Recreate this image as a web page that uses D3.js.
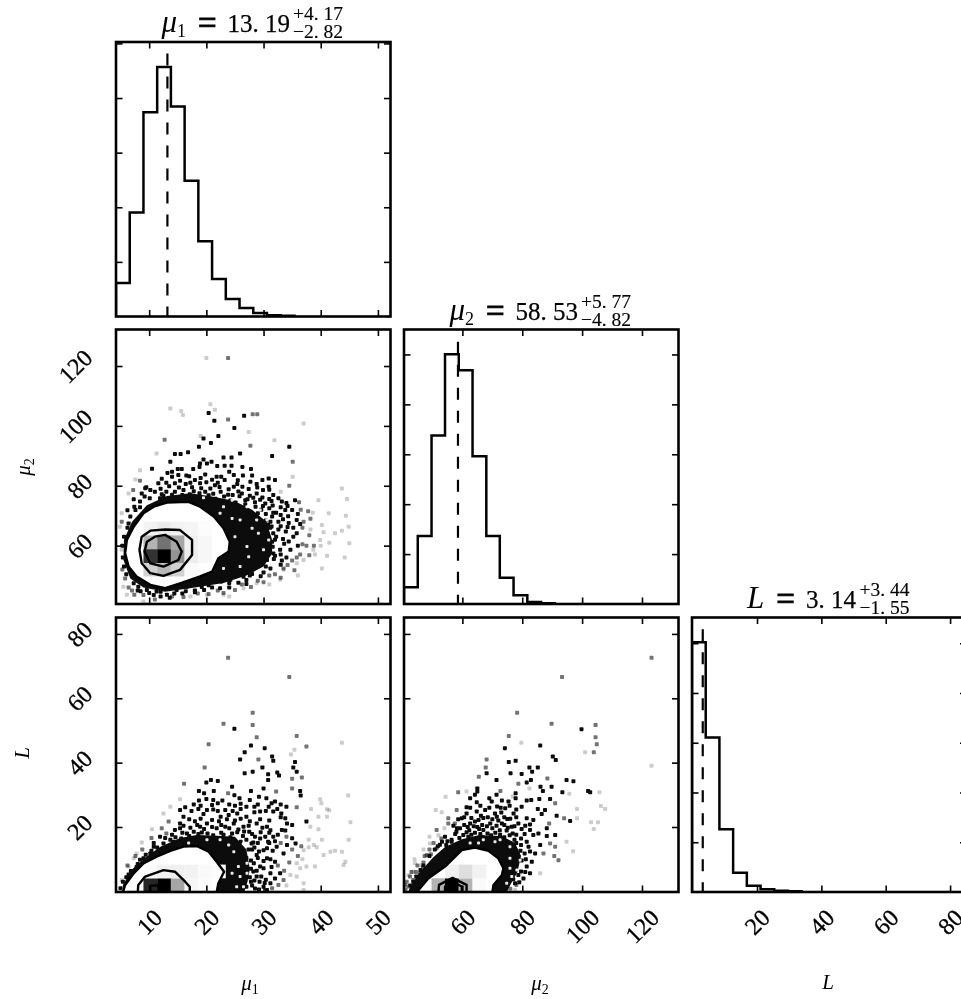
<!DOCTYPE html>
<html>
<head>
<meta charset="utf-8">
<script src="https://cdn.jsdelivr.net/npm/d3@7"></script>
<style>
body { margin: 0; background: #fff; }
svg { display: block; filter: blur(0.55px); }
text { font-family: "Liberation Serif", serif; fill: #000; }
</style>
</head>
<body>
<div id="chart"></div>
<script>
// axis ranges and ticks
var mu1Domain = [4.2, 52.2], mu2Domain = [40.5, 132.2], lDomain = [-0.2, 85.1];
var mu1Ticks = [10, 20, 30, 40, 50], mu2Ticks = [60, 80, 100, 120], lTicks = [20, 40, 60, 80];

// histograms
var mu1Edges = [4.2, 6.6, 9, 11.4, 13.8, 16.2, 18.6, 21, 23.4, 25.8, 28.2, 30.6, 33, 35.4];
var mu1Counts = [307, 951, 1871, 2285, 1923, 1242, 690, 344, 160, 77, 31, 12, 6];
var mu1CountTicks = [500, 1000, 1500, 2000, 2500];
var mu2Edges = [40.5, 45.1, 49.7, 54.2, 58.8, 63.4, 68, 72.5, 77.1, 81.7, 86.3, 90.9];
var mu2Counts = [168, 681, 1688, 2503, 2342, 1480, 681, 262, 87, 20, 7];
var mu2CountTicks = [500, 1000, 1500, 2000, 2500];
var lEdges = [-0.2, 4.06, 8.32, 12.58, 16.84, 21.1, 25.36, 29.62, 33.88];
var lCounts = [5020, 3107, 1262, 389, 128, 54, 27, 13];
var lCountTicks = [1000, 2000, 3000, 4000, 5000];
var countTops = [2513, 2750, 5517];
var medians = [13.19, 58.53, 3.14];
var medianTops = [2408, 2627, 5282];

// titles
var titleNames = ["\u03bc", "\u03bc", "L"];
var titleSubs = ["1", "2", ""];
var titleValues = ["13. 19", "58. 53", "3. 14"];
var titlePlus = ["+4. 17", "+5. 77", "+3. 44"];
var titleMinus = ["\u22122. 82", "\u22124. 82", "\u22121. 55"];

// mu1 / mu2 panel
var p1Outer = [[5.8,57.4],[6.1,61.9],[7.3,66.3],[9,70.8],[10.8,73],[13.1,74.4],[16.9,74.6],[18.9,73],[21.3,69.7],[23,65.8],[24.1,61.3],[23.9,58],[22.1,55.8],[21,51.3],[18.9,49.7],[15.4,47.4],[12.8,45.8],[10.2,46.9],[7.8,49.7],[6.4,53]];
var p1Middle = [[8.3,58.6],[8.7,63],[10.2,65],[12.8,65.4],[15.4,65.2],[17.5,61.9],[17.5,56.9],[15.4,51.9],[12.5,49.9],[10.2,50.8],[8.7,54.1]];
var p1Inner = [[9.2,58],[9.6,61.3],[11,63],[12.8,63.6],[14.8,61.3],[15.7,58],[15.1,55.2],[12.5,53],[10.2,54.1]];
var p1Dense = [[5.5,55.2],[5.6,62],[7,68],[9.6,73.5],[13.1,76.6],[17.2,77.5],[20.7,76.5],[24.8,75],[28,72],[30.5,68],[31.5,62],[31.5,57.4],[30,53],[27,50],[23,47.5],[18,46],[12.8,44.6],[9,46],[6.7,49]];
// [mu1 bin, mu2 bin, density]
var p1Cells = [[2,5,.05],[3,5,.08],[4,5,.05],[5,5,.04],[6,5,.01],[2,4,.3],[3,4,.55],[4,4,.35],[5,4,.06],[6,4,.03],[2,3,.8],[3,3,1],[4,3,.42],[5,3,.07],[6,3,.03],[2,2,.18],[3,2,.28],[4,2,.18],[5,2,.02]];
var p1Dark = [[20.4,104.3],[21.4,101.7],[24.9,99.3],[26.6,103.4],[22.1,96.6],[19.5,95.8],[18.7,93],[20.8,94.3],[16.8,91.2],[15.5,90.6],[14.5,90.6],[13.7,88],[25.9,90.8],[24.4,89.4],[23,89.4],[31.5,89.9],[34.5,93],[19.5,88.8],[18.9,87.4],[20.1,87.4],[20.9,88],[21.9,86.6],[23.2,86.7],[24.4,86.7],[26.3,86.3],[27.8,85.6],[10.5,85.7],[13.2,84.3],[14,84.7],[15,85.6],[15.7,85.6],[17.7,85.6],[18.8,86.3],[15.1,83.6],[16.5,83.4],[12.2,82.3],[11.6,80.8],[15.4,81.7],[14.5,80.8],[18,81.9],[18.9,80.8],[24,84.7],[24.8,83.6],[23.2,81.9],[28,83.4],[27.7,81.3],[29.8,81.9],[30.9,82.4],[32,81.9],[30.9,79.7],[29.9,78.6],[26.3,79.7],[24.8,79.7],[20.7,79.1],[21.5,80.2],[19.8,78],[16,78.6],[14.5,78],[13,78],[11,78],[10.2,78.6],[8.7,77.4],[10.1,75.8],[8.4,74.7],[7.6,71.9],[6.7,69.7],[6.4,67.4],[28.8,77.4],[31.7,76.9],[30.3,74.1],[33.2,74.7],[35.5,75.2],[33.8,71.9],[35,71.9],[31.5,69.7],[32.6,68],[35.8,68.6],[33.9,64.7],[31.7,64.1],[35.2,63],[31.5,61.3],[32.9,58.6],[34.7,58.6],[35.8,64.1],[7.3,47.4],[8.1,46.3],[9.6,45.2],[11.3,44.7],[13.1,43.6],[14.8,45.2],[16.6,46.3],[18.9,47.4],[21.3,48],[23,49.1],[24.8,50.8],[26.5,50.8],[28.3,52.4],[30.6,55.2],[31.7,57.4],[29.4,58.6],[12,79],[17.5,79.5],[18.8,77.5],[22.5,78],[23.8,77],[25.8,76.5],[27.2,75.5],[28.5,74.5],[26.8,73.8],[29.6,72],[31,72.5],[32.2,71],[30.8,67],[33,66.5],[31.2,66],[32,62],[30.8,59],[31.8,55.5],[33.2,55],[28,50.5],[30,51],[27,48.5],[24,47.5],[21,46],[18,45],[15.8,44],[10.8,43.5],[8.5,44.8],[21.8,83],[19.8,83.8],[17.2,81],[25.5,81.8],[13.5,79.8],[9.5,79.5],[7.3,75.5],[6.2,71.8],
[9.3,79.2],[12.2,77.2],[15.2,79.4],[17.8,78.2],[19.1,79.2],[22.3,79.6],[23.9,78.8],[25.6,78.1],[27.4,78.9],[28.9,79.4],[31,78.7],[9.2,76.4],[12.5,76.6],[14,77],[15.8,76.9],[17.1,77.2],[18.4,76.1],[20.4,76.8],[21.2,77.3],[23.1,76.4],[24.6,76.9],[26.2,77.4],[27.6,76.7],[29.8,76.1],[31,75.6],[11.9,75.8],[13.9,75.9],[15.1,76.1],[16.5,75.5],[18,75.4],[19.2,75.2],[20,74.8],[21.6,75.7],[22.9,74.9],[24.2,75.1],[25.1,74.4],[26.8,75.2],[28.2,76],[29.4,75.3],[31.4,74.9],[32.6,75.8],[34,74.2],[25.6,72.6],[26.9,72.4],[28.6,73],[29.9,73.2],[31.6,73.4],[33,72.8],[34.2,73.2],[29,70.8],[30.4,70.6],[31.7,71],[33,70.2],[34.3,69.8],[36,70.6],[30.4,68.4],[31.2,68],[33.4,68.8],[34.4,67.6],[36.4,67.2],[30.6,65.6],[31.4,66.4],[32.6,65.4],[34.2,66.2],[35.2,66],[30.8,62.4],[32.2,63],[33.4,62.2],[34.4,61.4],[30.6,60.2],[31.6,59.6],[33.6,60.6],[36,60],[30.4,56.2],[32,56.6],[33,57],[34,56],[29.2,53.4],[30.4,53],[31.2,52.4],[33,53.6],[25,49.6],[26.5,49.6],[27.6,50],[29.5,49.8],[22.6,48],[24.2,48.6],[25.6,47.6],[27,47.2],[19.2,46.2],[20.4,46.8],[22.4,45.8],[24,46],[8,45],[10,44.2],[12,44.6],[14.4,44],[16.4,44.8],[18,44.4],[19.6,45.2],[12,43],[13.6,42.6],[14,83],[17,83.2],[19,82.6],[21,82],[22.6,83],[26.4,83.4],[13,81],[16.4,80.6],[20,81.2],[22,81],[25.4,80.6],[28.8,80.6],[5.6,53],[5.4,56],[5.3,60],[5.6,63],[6,50.4],[6.2,66],[7.4,73],[8.4,72.8]];
var p1Mid = [[23.8,122.7],[12.7,95.4],[23.8,102.1],[27.7,93.4],[35.1,88],[28.1,103.9],[28.9,103.9],[8.4,81.7],[34.5,80],[37.8,71.5],[36.5,72],[36.8,66],[38,63.5],[37.5,60],[35.8,56],[33.5,52.4],[31,50],[29,48.3],[26.2,47],[22,45],[18.5,44],[14,43],[9,43.5],[7,45],[5.8,49],[5.3,52],[5.2,68],[36.8,60.5],[38.8,60],[35.4,51.8],[33,49.3],[34.2,53.5],[35,55],[36.4,57],[38,56.8],[32,50.4],[30,47.8],[27.8,46.2],[25,45.2],[23,44.2],[20.4,43.8],[16,42.8],[11,42],[7.4,43.6],[6.4,46],[37,68],[38.2,69],[36.2,74.5],[7.2,78.6]];
var p1Faint = [[20,122.7],[20.7,107.2],[21.5,105.4],[13.7,105.8],[15.6,105],[15.9,103.6],[27.4,98],[37,100.8],[31.9,95.2],[19,96.6],[11.3,90.8],[8.4,85.2],[7.6,82.1],[6.4,77.4],[5.2,70.8],[4.9,66.3],[43.7,79.1],[44.6,75.6],[39.6,75.2],[41.4,70.8],[44.4,70],[44.9,66.3],[43.7,65],[42.5,64.1],[45,60.8],[44.2,56],[41.1,56.6],[40.2,66.9],[38.2,65.4],[39.9,61.9],[38.7,58.6],[40.2,52.4],[37,55.2],[35.8,54.1],[33.5,51.9],[32.9,48.6],[28.8,47.4],[26.5,45.8],[23,43.6],[20.1,43.6],[17.2,43],[9,41.3],[6.1,43.6],[5.5,46.3],[5.2,58.6],[35.1,83],[33,78],[38.6,71],[40.5,64.5],[41.5,61],[36,50],[31,47],[24,43],[40,60],[39,57]];
var p1Holes = [[24.5,69.1],[28,65.8],[22.4,70.8],[25,63],[29.1,64.1],[27.1,59.7],[25.9,68.6],[28.8,68.6],[30.6,68.6],[27.4,56.3],[30,58.6],[30.9,61.9],[23,73],[24.5,75.2],[19.5,76],[27.1,73],[25.9,53],[23,52.4],[29.4,71.9]];

// mu1 / L panel
var p2Outer = [[5.4,-0.3],[5.8,2],[7.3,5.6],[9,8.7],[11.3,10.8],[13.7,12.6],[16,13.9],[18.3,14.1],[20.4,12.3],[21.8,9.2],[23.1,6.1],[22.1,2.5],[21.8,-0.3]];
var p2Middle = [[8,-0.3],[8.1,2],[9.3,4.6],[12.5,6.6],[14.5,6.1],[16.3,3],[17.1,1.4],[17.1,-0.3]];
var p2Inner = [[10.2,-0.3],[10.2,1.7],[11.5,1.9],[11.8,-0.3]];
var p2Dense = [[5.4,-0.3],[5.4,2],[7,6.8],[9.4,10.6],[11.9,13.8],[15.4,16.6],[18.3,17.5],[21.8,17.3],[25,17],[27,13],[27.6,7],[27.2,3],[26.6,-0.3]];
var p2Cells = [[1,0,.01],[2,0,.85],[3,0,1],[4,0,.35],[5,0,.03],[6,0,.01],[2,1,.02],[3,1,.05],[4,1,.06],[5,1,.05],[6,1,.02],[7,1,.01]];
var p2Dark = [[24.9,50.5],[27.8,45.3],[30.2,44.5],[26.7,43.2],[25.9,41],[31.5,41.9],[31.7,40.6],[35.5,40.2],[35.2,38.5],[35.8,37.2],[29.8,38.5],[26.7,36.7],[28.1,37.2],[30.8,36.4],[30.8,34.6],[32.4,36.9],[32.7,36],[20.8,34.6],[20,33.8],[22,34.3],[24.5,32.5],[30,32],[18.7,31.2],[19.6,30.5],[21.3,31.2],[24.9,29.9],[27.8,31.2],[36.4,31.2],[36.5,29.8],[18.7,28.2],[20,28.7],[21.2,28.4],[22.8,28.2],[25.8,28.9],[29.2,29.4],[30.5,28.9],[32,27.9],[27.6,28.4],[27,26.3],[28.4,26.3],[30.9,26.3],[34,26.3],[16.3,26.1],[15.4,25.3],[16,23.2],[15.4,21.1],[14.5,19.1],[20.1,25.3],[19.5,24],[23.3,25.3],[23.9,23.7],[22.5,23.2],[25.4,24.2],[27,23.2],[29.4,24.8],[31.7,24.8],[33.1,24.2],[33.8,22.7],[37.5,21.7],[35,20.6],[34.1,21.1],[18.9,20.1],[20.1,21.1],[21.8,19.6],[23.3,20.1],[24.8,21.1],[26.5,20.1],[28.8,21.1],[30.6,20.1],[33.2,19.1],[33.8,18.9],[28.5,17],[30.3,17],[31.7,17],[35,16.5],[35.6,14.9],[34.1,14.4],[33.5,11.8],[32.3,13.9],[30,12.8],[28.8,11.3],[27.9,14.9],[28.3,8.7],[29.4,7.7],[30.6,10.3],[31.2,5.6],[32.9,5.6],[28.8,4.6],[30,1.4],[31.2,2.5],[28.5,0.9],[30.6,0.4],[11.9,17],[12.5,14.9],[13.7,16],[15.4,19.6],[16.6,18],[17.8,18.5],[10.2,11.8],[10.8,13.9],[19.2,18.3],[22.6,18.2],[24.5,18],[26.4,17.2],[27.5,18.5],[28,13],[29,15],[31,15],[28.2,6.2],[27.8,3],[29.3,3],[14.6,16.8],[9,10.3],[8,8.5],[6.8,6.3],
[17,22.4],[18,21.8],[19,22.6],[21,22.2],[22.2,21.8],[23.6,22.4],[25,22],[26,22.6],[27.6,21.8],[29.4,22.4],[31,22],[33,23],[16,20.4],[17.2,19.8],[18.4,20.6],[19.6,19.4],[21,20],[22.6,20.6],[24,19.6],[25.6,19.2],[27.4,20.4],[29.8,19.8],[31.2,19],[14,17.6],[15.8,18.2],[17,17.2],[18.6,17.8],[20.2,18],[21.2,17.4],[23,17.6],[24.2,16.8],[25.4,18.4],[26.6,18.6],[28,17.8],[29.5,18.4],[31,18.2],[32.5,17.6],[10.8,15],[12.8,16.6],[14.2,15.4],[15.6,16.4],[17,16],[18.8,16.6],[20,16.4],[21.4,16],[23,15.4],[26,15.4],[27,16],[28.2,15.2],[29.4,16.4],[30.8,15.4],[32,15.6],[27.4,13],[28.4,13.6],[29.2,12.4],[30.6,13.4],[31.6,12.6],[27,10.4],[27.8,9.6],[29,10.4],[30,9.4],[31.2,10],[32,9.2],[27.8,7],[28.8,6.4],[30,7.2],[31.4,7.6],[27.6,4.4],[28.4,3.4],[29.6,4.6],[30.4,3.6],[32,4],[27,1.4],[28,1.8],[29.2,0.6],[30.2,2.6],[17.4,25],[18.6,25.6],[21.2,25.4],[22,25],[24.6,25],[26,25.6],[28.4,24.6],[30.4,25],[32.4,25.6],[17.8,27],[19,26.6],[21,26.8],[22,27.4],[24,27],[25,26.6],[26,27.2],[29,27],[31.4,27.4],[33,27],[7.8,7.6],[8.4,9.8],[9.4,11.4],[10.4,12.6],[11.4,13.6],[12.4,13.4],[6.4,5.2],[5.4,3],[6,4.4],[5,1]];
var p2Mid = [[23.8,72.6],[34.5,66.6],[28.1,55.5],[28.1,51.7],[28.8,47.9],[35.8,48.3],[37.5,45],[20.4,45.7],[23,52.1],[19.7,38.5],[16.1,33.4],[29.1,41],[36.7,35.4],[35,35],[32.2,31],[35,32],[23.8,30.5],[35.8,26.1],[12.2,19.6],[13.4,21.7],[33,15],[36,11],[34.5,9],[32.5,8],[33.5,3.5],[31.5,1],[35,13],[36.6,14],[33.6,6.4],[32.6,2],[34,17],[13,18],[10.4,16.6],[8.8,13],[7.6,11],[6.2,8]];
var p2Faint = [[43.7,46.2],[44.8,29.8],[45.2,21.5],[44.9,16],[44.3,9.2],[44,8.2],[43.7,12.3],[42.5,12.6],[41.7,12.3],[39.9,28.6],[40.1,27.4],[38.3,25.6],[41.1,25.5],[41.5,25.2],[39.6,23.2],[41.1,23.2],[39.6,19.3],[38.2,20.1],[40.2,16],[37.9,16],[38.8,14.4],[39.3,13.7],[37.9,13.7],[37,12.8],[40.5,11.3],[39,7.7],[37.5,7.7],[36.4,7.2],[35.8,4.6],[34.7,5.1],[37,2.5],[37,0.4],[35.8,8.7],[15.4,28.6],[12.5,24.2],[13.7,26.3],[10.5,19.3],[8.7,15.2],[7.8,11.8],[6.4,7.7],[5.2,3.5],[7.3,10.3],[4.9,0.9],[35.4,44],[34.8,42.5],[36.8,10],[34,1.8]];
var p2Holes = [[25.9,4.6],[24.5,5.6],[25.6,7.7],[27.1,8.7],[25.3,1.4],[23.9,14.4],[26.5,14.9],[20.1,16],[22.4,16],[24.8,12.3],[16.9,15],[26.5,1.4],[27.1,5.6]];

// mu2 / L panel
var p3Outer = [[44.7,-0.3],[48.6,4],[54.2,7.7],[59.8,12.8],[64.2,13.6],[68.7,12.6],[72,10.3],[73.7,7.2],[73.2,5.1],[70.4,2],[70,-0.3]];
var p3Middle = [[52,-0.3],[52.2,2],[56.7,4.2],[61.4,2],[61.4,-0.3]];
var p3Inner = [[54.2,-0.3],[54.2,1.5],[56.7,2.9],[59.8,1.5],[59.8,-0.3]];
var p3Dense = [[41.8,-0.3],[42.6,1.4],[45.6,5.8],[50.3,10.6],[54.2,13.8],[59.8,16.2],[65.4,17.4],[73.2,17.2],[77.6,15],[79.6,11],[78.4,6],[76,2],[74.8,-0.3]];
var p3Cells = [[2,0,.3],[3,0,1],[4,0,.3],[5,0,.02],[3,1,.06],[4,1,.13],[5,1,.05]];
var p3Dark = [[99.8,50.4],[86,45.3],[74.2,44.5],[90.2,41.9],[91.2,40.8],[75.5,40.2],[77.8,40.6],[68.1,36.7],[82.4,38.5],[85.2,38.5],[83.3,37.2],[76.1,36.7],[79.8,36.5],[71.4,34.6],[82.9,34.6],[81.5,33.8],[94.8,34.6],[97.1,34.2],[86.1,32.5],[89.8,32.5],[65,32],[65,31],[86.9,31.2],[93.4,30.8],[102,31.2],[102.7,30.8],[64.2,30],[62.6,28.9],[69,28.9],[71.4,30],[77.8,30.5],[77.8,28.9],[81.5,28.2],[83,28.4],[85.7,28.7],[89.3,28.7],[64.8,27.7],[69.8,27.9],[73.2,28.2],[75.4,27.9],[79.8,26.3],[85.2,25.6],[86.5,24],[87.6,25.3],[91.5,23.5],[96,21.9],[61.4,26.1],[61.4,24.2],[64.8,24.8],[67.6,25.3],[70.9,24.2],[74.3,25.8],[77.1,24.2],[81.5,22.7],[83.7,22.2],[78.7,21.1],[88.2,19.6],[91,17.5],[88.2,17.2],[85.4,18],[82.6,19.1],[83.7,17.5],[59.8,22.7],[62.6,21.1],[64.2,21.7],[69.3,21.1],[73.2,21.1],[76.5,20.1],[59.2,19.6],[54.2,17],[56.4,16],[60.3,17.5],[67,19.1],[81.5,15.4],[82.1,13.9],[84.3,11.8],[86,14.4],[83.2,9.2],[81.5,7.7],[82.6,5.6],[80.4,4],[78.7,5.1],[77.6,2.5],[71.5,23.2],[73,24.5],[66.2,23.5],[68.5,23],[75,22.5],[72.5,19],[74.8,18.9],[62.3,19],[65,20],[58,18.5],[52.5,14.5],[50.8,13],
[57,20.4],[58.2,19.6],[60.6,20.6],[61.8,20],[63.8,20.2],[65.6,19.4],[66.6,20.6],[68.2,20.2],[70,19.6],[71.4,20.4],[74,20.6],[75.2,19.8],[77.4,20.2],[79.8,19.4],[81,20.4],[82.6,20.8],[51.8,14],[53.2,15.4],[55,15.6],[57.6,17.8],[61.4,18.4],[63,17.6],[64.2,18.2],[66,17.8],[68.4,18],[69.6,17.4],[71,18.2],[72.6,17.6],[74,16.8],[75.8,17.4],[76.8,18],[78,17.6],[79.6,16.4],[80.8,17.8],[58.6,22.4],[60.6,23],[63,22.8],[65.4,22.2],[67,22.8],[70,22.4],[72,22],[74,23],[76,22.6],[78,23],[62.6,26],[66,26.6],[69,26],[71.6,26.4],[72.8,26],[75.8,26.6],[78,25.4],[77,12.4],[78.4,11.6],[79.4,12.6],[80.8,11.8],[82.6,12.4],[75,9.4],[76.4,8.4],[78,9],[79.8,9.6],[81.2,10],[75.6,6],[76.8,6.6],[79.6,6.2],[81,6],[74.4,3],[75.8,3.4],[77,3.8],[79,2.8],[71,0.8],[72,1.6],[73.5,0.6],[49,11],[50,9],[47,8],[46,6.6],[44.6,4.6],[43.6,3],[42.6,1.8],[54.6,14.4],[56.4,15.4],[59,16.6],[62,17],[76,15],[78,15],[79.6,14.4],[77.4,16],[73.4,16.6],[67,16.8]];
var p3Mid = [[123.2,72.6],[93.3,66.6],[78.3,55.5],[89.8,52.1],[104.5,51.7],[104.5,47.9],[104.9,45.7],[75.5,48.3],[103.9,43.2],[68.1,41],[67.8,38.5],[65.5,35.6],[72.7,31.2],[58.6,30.8],[94,22.7],[58.1,25.3],[88.4,35.1],[78.7,33.4],[91,27.4],[89.3,14.9],[91,13.9],[90.7,11],[92.1,9.7],[87.1,11.8],[89,21.1],[55.3,22.7],[55.3,21.1],[57.5,21.1],[51.4,13.4],[48.1,11.3],[41.4,3],[42.5,4.6],[45.8,5.6],[43.6,3.5],[74.3,1.5],[47,9],[49.5,11.5],[44.5,6],[46.8,7.5],[42,1.5],[51.4,19.1],[41,0.6],[40.8,2],[43,6],[45,8],[47.4,11],[49,13],[50.4,15],[53,16.4],[76,0.8],[78,2]];
var p3Faint = [[82.4,32],[95.7,30.3],[105.8,30.8],[98.3,25.6],[98.3,22.7],[106.3,26.5],[107.7,25.6],[103,21.5],[105.3,21.5],[103.9,19.4],[94.8,15.4],[97,12.5],[101,43.2],[123.2,39],[79.7,46.2],[86,5.6],[54.4,29.4],[61.4,31],[51.1,25.3],[53.1,24.6],[54,19.6],[49.2,14.9],[46.4,8.2],[43.6,6.1],[44.2,8.7],[77.6,0.4],[76.8,29.5],[42,5],[44,10],[47,13],[49,17],[52,17.4]];
var p3Holes = [[75.9,10.3],[79.3,9.7],[78.2,6.6],[75.9,7.2],[76.5,4.6],[70.9,15.4],[75.9,13.9],[74.8,2.5],[67,16],[62.6,15],[65.4,15],[72.6,16]];

// layout
var W = 961, H = 999, panelW = 274.5, panelH = 274.5;
var colLeft = [116, 404, 692], rowTop = [42, 329.5, 617.5];
var tickLen = 6.5, tickFont = 24;

var svg = d3.select("#chart").append("svg").attr("width", W).attr("height", H);
var defs = svg.append("defs");
var grayScale = d3.scaleLinear().domain([0, 1]).range(["#ffffff", "#000000"]);
var domains = [mu1Domain, mu2Domain, lDomain];
var valueTicks = [mu1Ticks, mu2Ticks, lTicks];

function xScale(col) { return d3.scaleLinear().domain(domains[col]).range([0, panelW]); }
function yScale(row) { return d3.scaleLinear().domain(domains[row]).range([panelH, 0]); }

function panel(row, col) {
    var id = "clip" + row + col;
    defs.append("clipPath").attr("id", id).append("rect").attr("width", panelW).attr("height", panelH);
    var g = svg.append("g").attr("transform", "translate(" + colLeft[col] + "," + rowTop[row] + ")");
    return { g: g, body: g.append("g").attr("clip-path", "url(#" + id + ")") };
}

// ticks go inward on all sides; labels rotated 45 deg as in the original
function drawAxes(g, x, y, xt, yt, showX, showY) {
    var b = g.append("g").attr("transform", "translate(0," + panelH + ")")
        .call(d3.axisBottom(x).tickValues(xt).tickSizeOuter(0).tickSizeInner(-tickLen).tickFormat(showX ? d3.format("d") : ""));
    g.append("g").call(d3.axisTop(x).tickValues(xt).tickSizeOuter(0).tickSizeInner(-tickLen).tickFormat(""));
    var l = g.append("g")
        .call(d3.axisLeft(y).tickValues(yt).tickSizeOuter(0).tickSizeInner(-tickLen).tickFormat(showY ? d3.format("d") : ""));
    g.append("g").attr("transform", "translate(" + panelW + ",0)")
        .call(d3.axisRight(y).tickValues(yt).tickSizeOuter(0).tickSizeInner(-tickLen).tickFormat(""));
    g.selectAll(".domain").remove();
    g.selectAll(".tick line").attr("stroke", "#000").attr("stroke-width", 1.6);
    g.selectAll(".tick text").attr("font-family", null).attr("font-size", tickFont)
        .attr("stroke", "#000").attr("stroke-width", 0.3);
    b.selectAll(".tick text").each(function() {
        var w = this.getComputedTextLength(), box = (w + tickFont * 0.66) * 0.707;
        d3.select(this).attr("y", 0).attr("dy", "0.33em").attr("text-anchor", "middle")
            .attr("transform", "translate(0," + (16 + box / 2) + ") rotate(-45)");
    });
    l.selectAll(".tick text").each(function() {
        var w = this.getComputedTextLength(), box = (w + tickFont * 0.66) * 0.707;
        d3.select(this).attr("x", 0).attr("dy", "0.33em").attr("text-anchor", "middle")
            .attr("transform", "translate(" + (-22 - box / 2) + ",0) rotate(-45)");
    });
}

function drawFrame(g) {
    g.append("rect").attr("width", panelW).attr("height", panelH)
        .attr("fill", "none").attr("stroke", "#000").attr("stroke-width", 2.6);
}

function drawHist(i, edges, counts, countTicks) {
    var p = panel(i, i), x = xScale(i);
    var y = d3.scaleLinear().domain([0, countTops[i]]).range([panelH, 0]);
    var pts = [[edges[0], 0]];
    counts.forEach(function(c, k) { pts.push([edges[k], c]); pts.push([edges[k + 1], c]); });
    pts.push([edges[edges.length - 1], 0]);
    var line = d3.line().x(function(d) { return x(d[0]); }).y(function(d) { return y(d[1]); });
    p.body.append("path").attr("d", line(pts)).attr("fill", "none")
        .attr("stroke", "#000").attr("stroke-width", 2.5).attr("stroke-linejoin", "miter");
    p.body.append("line")
        .attr("x1", x(medians[i])).attr("x2", x(medians[i]))
        .attr("y1", y(medianTops[i])).attr("y2", y(0))
        .attr("stroke", "#000").attr("stroke-width", 2.2).attr("stroke-dasharray", "12 11");
    drawAxes(p.g, x, y, valueTicks[i], countTicks, i == 2, false);
    drawFrame(p.g);
}

function dots(body, x, y, list, color, opacity, size) {
    body.append("g").selectAll("rect").data(list).enter().append("rect")
        .attr("x", function(d) { return x(d[0]) - size / 2; })
        .attr("y", function(d) { return y(d[1]) - size / 2; })
        .attr("width", size).attr("height", size).attr("rx", 0.8)
        .attr("fill", color).attr("opacity", opacity);
}

function drawScatter(row, col, d) {
    var p = panel(row, col), x = xScale(col), y = yScale(row);
    var xEdges = [mu1Edges, mu2Edges, lEdges][col], yEdges = [mu1Edges, mu2Edges, lEdges][row];
    var poly = d3.line().x(function(q) { return x(q[0]); }).y(function(q) { return y(q[1]); })
        .curve(d3.curveLinearClosed);

    dots(p.body, x, y, d.faint, "#000", 0.2, 4);
    dots(p.body, x, y, d.mid, "#000", 0.55, 4);
    p.body.append("path").attr("d", poly(d.dense)).attr("fill", "#0c0c0c");
    dots(p.body, x, y, d.dark, "#0c0c0c", 1, 4);
    dots(p.body, x, y, d.holes, "#fff", 0.9, 3);
    // white inside the outer contour, then the 2d histogram cells
    p.body.append("path").attr("d", poly(d.outer)).attr("fill", "#fff");
    p.body.append("g").selectAll("rect").data(d.cells).enter().append("rect")
        .attr("x", function(c) { return x(xEdges[c[0]]); })
        .attr("y", function(c) { return y(yEdges[c[1] + 1]); })
        .attr("width", function(c) { return x(xEdges[c[0] + 1]) - x(xEdges[c[0]]); })
        .attr("height", function(c) { return y(yEdges[c[1]]) - y(yEdges[c[1] + 1]); })
        .attr("fill", function(c) { return grayScale(c[2]); });
    [d.outer, d.middle, d.inner].forEach(function(c) {
        p.body.append("path").attr("d", poly(c)).attr("fill", "none")
            .attr("stroke", "#000").attr("stroke-width", 2.4).attr("stroke-linejoin", "round");
    });
    drawAxes(p.g, x, y, valueTicks[col], valueTicks[row], row == 2, col == 0);
    drawFrame(p.g);
}

function drawTitle(i) {
    var g = svg.append("g");
    var baseY = rowTop[i] - 10;
    var main = g.append("text").attr("y", baseY).attr("font-size", 25);
    main.append("tspan").attr("font-style", "italic").attr("font-size", 31).text(titleNames[i]);
    var up = 2;
    if (titleSubs[i]) {
        main.append("tspan").attr("font-size", 18).attr("dy", 5).text(titleSubs[i]);
        up = -3;
    }
    main.append("tspan").attr("dy", up).attr("dx", 12).attr("font-size", 33)
        .attr("stroke", "#000").attr("stroke-width", 0.9).text("=");
    main.append("tspan").attr("dy", -2).attr("dx", 11)
        .attr("stroke", "#000").attr("stroke-width", 0.25).text(titleValues[i]);
    var mainW = main.node().getBBox().width;
    var sup = g.append("text").attr("y", baseY - 12).attr("font-size", 19.5)
        .attr("stroke", "#000").attr("stroke-width", 0.15).text(titlePlus[i]);
    var sub = g.append("text").attr("y", baseY + 6).attr("font-size", 19.5)
        .attr("stroke", "#000").attr("stroke-width", 0.15).text(titleMinus[i]);
    var supW = Math.max(sup.node().getComputedTextLength(), sub.node().getComputedTextLength());
    var left = colLeft[i] + panelW / 2 - (mainW + supW + 2) / 2 - 1;
    main.attr("x", left);
    sup.attr("x", left + mainW + 2);
    sub.attr("x", left + mainW + 2);
}

function axisName(x, y, name, sub, rotate) {
    var t = svg.append("text").attr("font-size", 21).attr("text-anchor", "middle")
        .attr("transform", "translate(" + x + "," + y + ")" + (rotate ? " rotate(-90)" : ""));
    t.append("tspan").attr("font-style", "italic").text(name);
    if (sub) t.append("tspan").attr("font-size", 14).attr("dy", 4).text(sub);
}

drawHist(0, mu1Edges, mu1Counts, mu1CountTicks);
drawHist(1, mu2Edges, mu2Counts, mu2CountTicks);
drawHist(2, lEdges, lCounts, lCountTicks);
drawScatter(1, 0, {outer: p1Outer, middle: p1Middle, inner: p1Inner, dense: p1Dense, cells: p1Cells, dark: p1Dark, mid: p1Mid, faint: p1Faint, holes: p1Holes});
drawScatter(2, 0, {outer: p2Outer, middle: p2Middle, inner: p2Inner, dense: p2Dense, cells: p2Cells, dark: p2Dark, mid: p2Mid, faint: p2Faint, holes: p2Holes});
drawScatter(2, 1, {outer: p3Outer, middle: p3Middle, inner: p3Inner, dense: p3Dense, cells: p3Cells, dark: p3Dark, mid: p3Mid, faint: p3Faint, holes: p3Holes});
[0, 1, 2].forEach(drawTitle);

axisName(250, 990, "\u03bc", "1", false);
axisName(540, 990, "\u03bc", "2", false);
axisName(828, 989, "L", "", false);
axisName(30, 467, "\u03bc", "2", true);
axisName(29, 753, "L", "", true);
</script>
</body>
</html>
